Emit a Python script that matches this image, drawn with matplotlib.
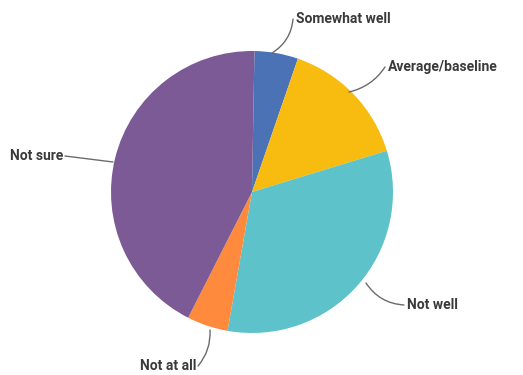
import numpy as np
import matplotlib
matplotlib.use("Agg")
import matplotlib.pyplot as plt

# answer shares, clockwise from 12 o'clock
labels = ["Somewhat well", "Average/baseline", "Not well", "Not at all", "Not sure"]
shares = [5, 15, 32.5, 4.7, 42.8]
colors = ["#4a72b5", "#f8bb0f", "#5dc2c9", "#fe8a3e", "#7c5a95"]

# label text anchor and leader line points (pixel space, y down)
label_pos = [(296, 19), (388, 67), (407, 305), (196, 366), (63, 156)]
leader_start = [(272, 53), (349, 92), (366, 283), (210, 330), (113, 162)]
label_ha = ["left", "left", "left", "right", "right"]
line_rad = [-0.25, -0.2, -0.25, 0.2, 0.0]

W, H = 523, 375
fig = plt.figure(figsize=(W / 100, H / 100), dpi=100)
ax = fig.add_axes([0, 0, 1, 1])

cx, cy, r = 252, H - 192, 141
ax.pie(shares, colors=colors, startangle=89, counterclock=False,
       center=(cx, cy), radius=r, frame=True,
       wedgeprops=dict(linewidth=0))
ax.set_xlim(0, W)
ax.set_ylim(0, H)
ax.set_aspect("equal")
ax.axis("off")

for lab, (tx, ty), (sx, sy), ha, rad in zip(labels, label_pos, leader_start, label_ha, line_rad):
    # leader ends just beside the text
    ex = tx - 3 if ha == "left" else tx + 2
    ax.annotate("", xy=(sx, H - sy), xytext=(ex, H - ty),
                arrowprops=dict(arrowstyle="-", color="#6b6b6b", lw=1.0,
                                connectionstyle=f"arc3,rad={rad}",
                                shrinkA=0, shrinkB=0))
    ax.text(tx, H - ty, lab, ha=ha, va="center", fontsize=10,
            family="Roboto", fontweight="bold", color="#3a3a3a")

fig.savefig("out.png", dpi=100, facecolor="white")
